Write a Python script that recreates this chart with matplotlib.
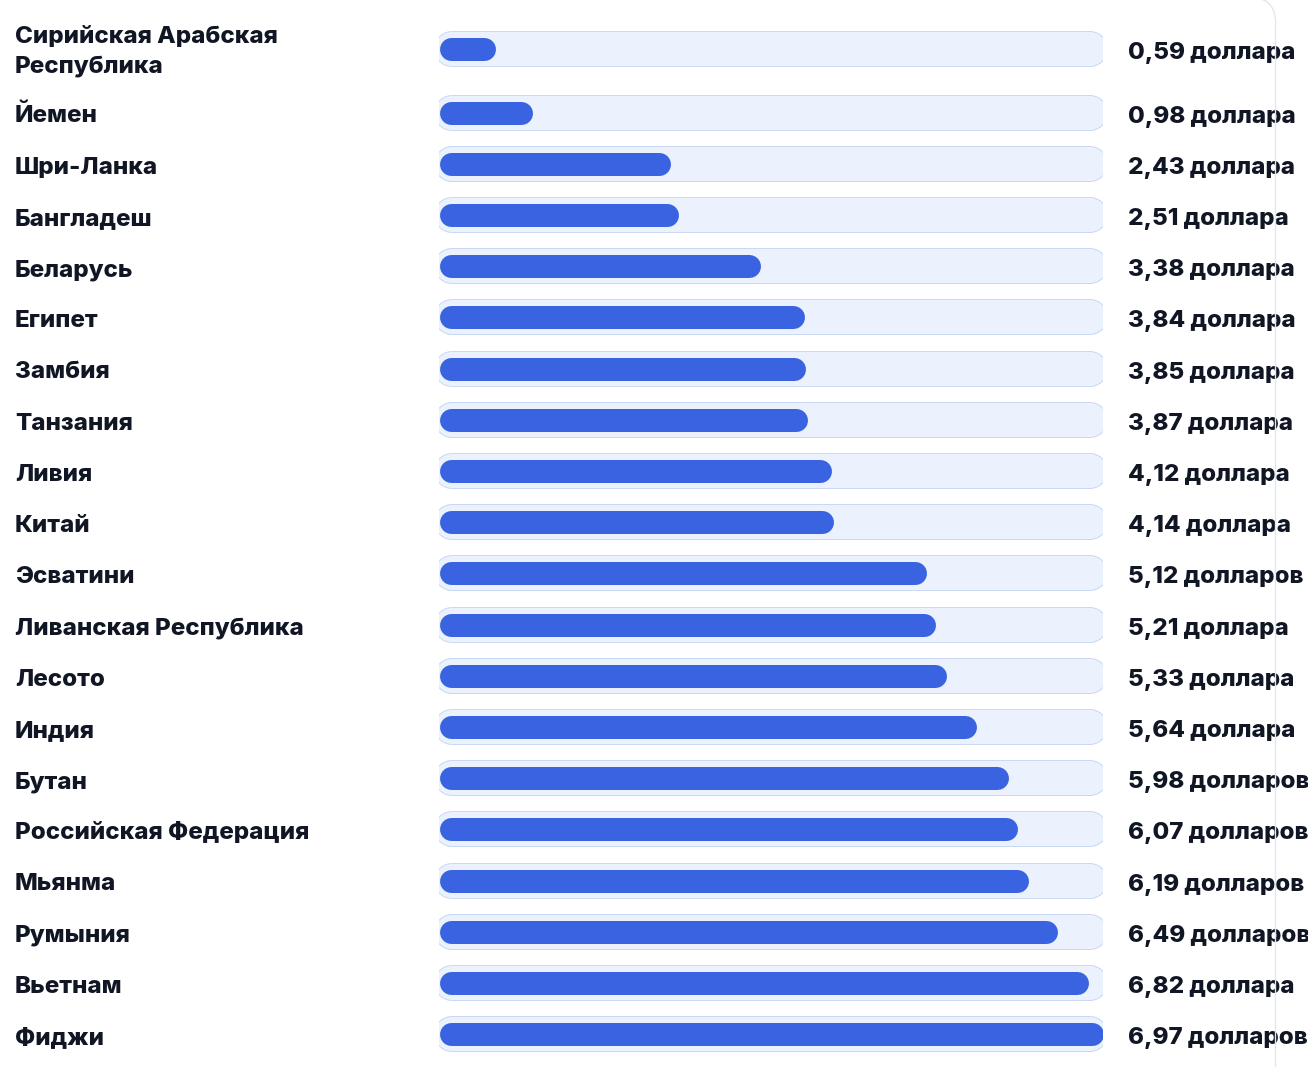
import textwrap
import matplotlib
matplotlib.use("Agg")
import matplotlib.pyplot as plt
from matplotlib import transforms, font_manager as fm
from matplotlib.lines import Line2D
from matplotlib.patches import Arc

countries = [
    "Сирийская Арабская Республика", "Йемен", "Шри-Ланка", "Бангладеш", "Беларусь",
    "Египет", "Замбия", "Танзания", "Ливия", "Китай", "Эсватини",
    "Ливанская Республика", "Лесото", "Индия", "Бутан", "Российская Федерация",
    "Мьянма", "Румыния", "Вьетнам", "Фиджи",
]
values = [0.59, 0.98, 2.43, 2.51, 3.38, 3.84, 3.85, 3.87, 4.12, 4.14, 5.12,
          5.21, 5.33, 5.64, 5.98, 6.07, 6.19, 6.49, 6.82, 6.97]
value_labels = [
    "0,59 доллара", "0,98 доллара", "2,43 доллара", "2,51 доллара", "3,38 доллара",
    "3,84 доллара", "3,85 доллара", "3,87 доллара", "4,12 доллара", "4,14 доллара",
    "5,12 долларов", "5,21 доллара", "5,33 доллара", "5,64 доллара", "5,98 долларов",
    "6,07 долларов", "6,19 долларов", "6,49 долларов", "6,82 доллара", "6,97 долларов",
]

W, H = 1308, 1067
DPI = 100
BAR_COLOR = "#3a63e2"
TRACK_FILL = "#ebf1fd"
TRACK_EDGE = "#cad8f4"
TEXT_COLOR = "#111624"
FS = 17.4

# pick the heaviest static Inter face up to ExtraBold
def pick_font():
    cands = []
    for f in fm.fontManager.ttflist:
        if f.name == "Inter" and f.style == "normal":
            w = f.weight if isinstance(f.weight, int) else fm.weight_dict.get(f.weight, 400)
            cands.append((w, f.fname))
    good = [c for c in cands if 700 <= c[0] <= 800]
    if good:
        good.sort()
        return fm.FontProperties(fname=good[-1][1], size=FS)
    return fm.FontProperties(family=["Inter", "DejaVu Sans"], weight="heavy", size=FS)

FP = pick_font()

fig = plt.figure(figsize=(W / DPI, H / DPI), dpi=DPI)
fig.patch.set_facecolor("white")

bar_left, bar_w = 439, 664
ax = fig.add_axes([bar_left / W, 0, bar_w / W, 1])
vmax = max(values)
ax.set_xlim(0, vmax)
ax.set_ylim(H, 0)
ax.axis("off")

px = vmax / bar_w
pt = 72 / DPI

ypos = [49 if i == 0 else 112.5 + (i - 1) * 51.2 for i in range(len(values))]

label_tf = transforms.blended_transform_factory(fig.transFigure, ax.transData)

for name, v, lab, y in zip(countries, values, value_labels, ypos):
    tx0, tx1 = 13 * px, vmax + (5 - 18) * px
    ax.plot([tx0, tx1], [y, y], lw=36 * pt, color=TRACK_EDGE,
            solid_capstyle="round", zorder=1)
    ax.plot([tx0, tx1], [y, y], lw=34 * pt, color=TRACK_FILL,
            solid_capstyle="round", zorder=2)
    r = 11.5
    ax.plot([r * px, v - r * px], [y, y], lw=23 * pt, color=BAR_COLOR,
            solid_capstyle="round", zorder=3)
    lines = textwrap.wrap(name, 22)
    if len(lines) == 1:
        baselines = [y + 10.0]
    else:
        baselines = [y - 5.7 + k * 29.4 for k in range(len(lines))]
    for ln, b in zip(lines, baselines):
        ax.text(15 / W, b, ln, transform=label_tf, ha="left", va="baseline",
                fontproperties=FP, color=TEXT_COLOR, zorder=5)
    ax.text(1128 / W, y + 10.0, lab, transform=label_tf, ha="left",
            va="baseline", fontproperties=FP, color=TEXT_COLOR, zorder=5)

# card border: right edge with rounded top corner (figure pixel coords)
R = 20
edge_x = 1275 / W
fig.lines.append(Line2D([edge_x, edge_x], [0, 1 - (R - 2) / H],
                        transform=fig.transFigure, color="#e3e6ec", lw=1.0))
fig.patches.append(Arc(((1275 - R) / W, 1 - (R - 2) / H), 2 * R / W, 2 * R / H,
                       theta1=0, theta2=90, transform=fig.transFigure,
                       color="#e3e6ec", lw=1.0))

fig.savefig("out.png", dpi=DPI, facecolor="white")
